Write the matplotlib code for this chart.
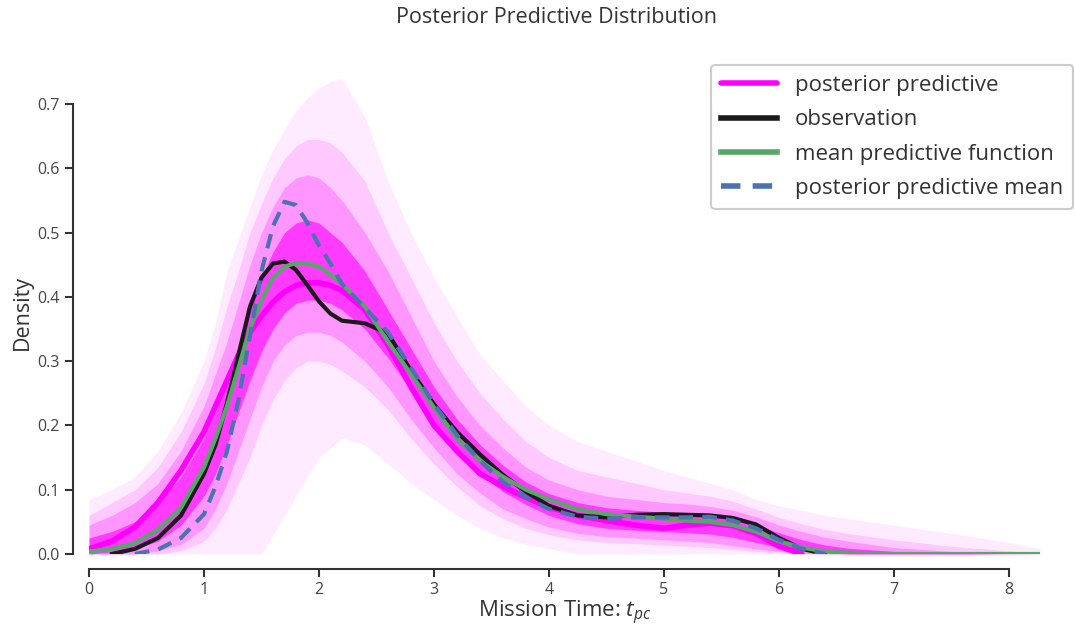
"""
Posterior predictive check plot for mission time t_pc.
Band of predictive densities plus observed KDE and means.
"""

import numpy as np
import matplotlib
matplotlib.use("Agg")
import matplotlib.pyplot as plt

# evaluation grid shared by every curve
X_GRID = [0.0, 0.2, 0.4, 0.6, 0.8, 1.0, 1.1, 1.2, 1.3, 1.4, 1.5, 1.6, 1.7, 1.8,
          1.9, 2.0, 2.1, 2.2, 2.4, 2.6, 2.8, 3.0, 3.2, 3.4, 3.6, 3.8, 4.0, 4.25,
          4.5, 4.75, 5.0, 5.2, 5.4, 5.6, 5.8, 6.0, 6.2, 6.4, 6.6, 7.0, 7.5, 8.0, 8.27]

nan = float("nan")

# observed KDE
OBSERVATION = [nan, 0.0, 0.008, 0.025, 0.06, 0.125, 0.17, 0.235, 0.31, 0.385, 0.43, 0.452,
               0.455, 0.442, 0.418, 0.393, 0.374, 0.363, 0.359, 0.343, 0.285, 0.233, 0.19,
               0.155, 0.123, 0.097, 0.075, 0.06, 0.057, 0.061, 0.062, 0.061, 0.06, 0.056,
               0.046, 0.025, 0.008, 0.0, nan, nan, nan, nan, nan]

MEAN_FUNCTION = [0.004, 0.008, 0.017, 0.038, 0.072, 0.135, 0.18, 0.23, 0.29, 0.35, 0.395,
                 0.43, 0.447, 0.453, 0.452, 0.447, 0.435, 0.42, 0.385, 0.33, 0.28, 0.228,
                 0.18, 0.145, 0.12, 0.1, 0.085, 0.07, 0.062, 0.058, 0.055, 0.052, 0.05,
                 0.045, 0.035, 0.02, 0.01, 0.004, 0.002, 0.0, 0.0, 0.0, 0.0]

PP_MEAN = [nan, nan, 0.0, 0.007, 0.025, 0.062, 0.105, 0.16, 0.24, 0.34, 0.44, 0.51, 0.548,
           0.543, 0.515, 0.48, 0.452, 0.42, 0.383, 0.345, 0.29, 0.233, 0.185, 0.145, 0.112,
           0.088, 0.07, 0.058, 0.055, 0.057, 0.057, 0.057, 0.058, 0.052, 0.04, 0.022,
           0.008, 0.0, nan, nan, nan, nan, nan]

# one highlighted predictive draw
PP_DRAW = [0.008, 0.02, 0.042, 0.08, 0.13, 0.19, 0.23, 0.27, 0.31, 0.345, 0.37, 0.392,
           0.408, 0.418, 0.422, 0.422, 0.418, 0.41, 0.38, 0.325, 0.26, 0.2, 0.16, 0.125,
           0.105, 0.088, 0.073, 0.06, 0.052, 0.045, 0.04, 0.045, 0.048, 0.044, 0.032,
           0.012, 0.0, nan, nan, nan, nan, nan, nan]

# spread of the predictive draws
BAND_MAX = [0.085, 0.10, 0.12, 0.16, 0.22, 0.30, 0.36, 0.44, 0.49, 0.54, 0.59, 0.63, 0.66,
            0.69, 0.71, 0.725, 0.735, 0.74, 0.68, 0.58, 0.50, 0.43, 0.37, 0.31, 0.27, 0.23,
            0.20, 0.175, 0.16, 0.145, 0.13, 0.12, 0.11, 0.10, 0.085, 0.075, 0.068, 0.06,
            0.055, 0.045, 0.032, 0.018, 0.008]
BAND_MIN = [0.0, 0.0, 0.0, 0.0, 0.0, 0.0, 0.0, 0.0, 0.0, 0.0, 0.0, 0.03, 0.06, 0.09, 0.12,
            0.15, 0.165, 0.18, 0.17, 0.14, 0.11, 0.085, 0.06, 0.04, 0.025, 0.015, 0.008,
            0.0, 0.0, 0.0, 0.0, 0.0, 0.0, 0.0, 0.0, 0.0, 0.0, 0.0, 0.0, 0.0, 0.0, 0.0, 0.0]
BAND_Q95 = [0.06, 0.08, 0.10, 0.135, 0.19, 0.265, 0.32, 0.385, 0.44, 0.5, 0.545, 0.585,
            0.615, 0.635, 0.645, 0.645, 0.64, 0.625, 0.58, 0.5, 0.43, 0.36, 0.3, 0.25, 0.21,
            0.175, 0.15, 0.13, 0.12, 0.11, 0.1, 0.095, 0.09, 0.082, 0.07, 0.057, 0.047,
            0.038, 0.032, 0.022, 0.012, 0.005, 0.001]
BAND_Q05 = [0.0, 0.0, 0.0, 0.0, 0.005, 0.02, 0.04, 0.07, 0.11, 0.15, 0.2, 0.24, 0.27, 0.29,
            0.3, 0.3, 0.295, 0.285, 0.26, 0.225, 0.18, 0.14, 0.105, 0.075, 0.055, 0.04,
            0.03, 0.022, 0.018, 0.016, 0.014, 0.012, 0.01, 0.007, 0.004, 0.002, 0.0, 0.0,
            0.0, 0.0, 0.0, 0.0, 0.0]
BAND_Q90 = [0.045, 0.06, 0.08, 0.11, 0.16, 0.23, 0.28, 0.33, 0.39, 0.45, 0.5, 0.54, 0.57,
            0.585, 0.59, 0.585, 0.57, 0.55, 0.5, 0.44, 0.37, 0.3, 0.245, 0.2, 0.165, 0.135,
            0.115, 0.1, 0.09, 0.085, 0.08, 0.078, 0.074, 0.068, 0.058, 0.045, 0.035, 0.026,
            0.02, 0.01, 0.004, 0.001, 0.0]
BAND_Q10 = [0.0, 0.0, 0.0, 0.005, 0.015, 0.04, 0.07, 0.11, 0.16, 0.21, 0.26, 0.3, 0.325,
            0.34, 0.345, 0.345, 0.34, 0.33, 0.3, 0.26, 0.21, 0.165, 0.125, 0.095, 0.07,
            0.055, 0.042, 0.032, 0.027, 0.025, 0.022, 0.02, 0.018, 0.013, 0.008, 0.004,
            0.001, 0.0, 0.0, 0.0, 0.0, 0.0, 0.0]
BAND_Q75 = [0.025, 0.035, 0.05, 0.08, 0.12, 0.18, 0.22, 0.27, 0.32, 0.38, 0.43, 0.47, 0.5,
            0.515, 0.52, 0.515, 0.5, 0.485, 0.44, 0.38, 0.32, 0.26, 0.21, 0.17, 0.138,
            0.112, 0.094, 0.08, 0.072, 0.068, 0.065, 0.063, 0.06, 0.054, 0.045, 0.033,
            0.022, 0.014, 0.009, 0.004, 0.001, 0.0, 0.0]
BAND_Q25 = [0.0, 0.003, 0.008, 0.02, 0.045, 0.09, 0.125, 0.17, 0.22, 0.27, 0.315, 0.35,
            0.375, 0.39, 0.395, 0.395, 0.39, 0.38, 0.35, 0.305, 0.255, 0.205, 0.16, 0.125,
            0.097, 0.077, 0.06, 0.047, 0.04, 0.037, 0.035, 0.033, 0.031, 0.026, 0.018,
            0.01, 0.005, 0.002, 0.0, 0.0, 0.0, 0.0, 0.0]

X_TICKS = [0, 1, 2, 3, 4, 5, 6, 7, 8]
Y_TICKS = [0.0, 0.1, 0.2, 0.3, 0.4, 0.5, 0.6, 0.7]

MAGENTA = "#ff00ff"
GREEN = "#55a868"
BLUE = "#4c72b0"
TEXT = "#333333"


def main():
    plt.rcParams["font.family"] = ["Open Sans", "DejaVu Sans"]
    plt.rcParams["mathtext.fontset"] = "custom"
    plt.rcParams["mathtext.it"] = "Open Sans:italic"
    plt.rcParams["mathtext.rm"] = "Open Sans"

    fig = plt.figure(figsize=(10.75, 6.25), dpi=100)
    ax = fig.add_axes([89 / 1075, 71 / 625, 951 / 1075, 482 / 625])

    x = np.array(X_GRID)
    # stacked quantile bands stand in for the cloud of thin predictive lines
    ax.fill_between(x, BAND_MIN, BAND_MAX, color=MAGENTA, alpha=0.08, lw=0)
    ax.fill_between(x, BAND_Q05, BAND_Q95, color=MAGENTA, alpha=0.15, lw=0)
    ax.fill_between(x, BAND_Q10, BAND_Q90, color=MAGENTA, alpha=0.25, lw=0)
    ax.fill_between(x, BAND_Q25, BAND_Q75, color=MAGENTA, alpha=0.6, lw=0)

    ax.plot(x, PP_DRAW, color=MAGENTA, lw=4, solid_capstyle="round",
            label="posterior predictive")
    ax.plot(x, OBSERVATION, color="#1a1a1a", lw=3, label="observation")
    ax.plot(x, MEAN_FUNCTION, color=GREEN, lw=3, label="mean predictive function")
    ax.plot(x, PP_MEAN, color=BLUE, lw=3, ls=(0, (3.5, 2.2)),
            label="posterior predictive mean")

    ax.set_xlim(0, 8.27)
    ax.set_ylim(0, 0.75)
    ax.set_xticks(X_TICKS)
    ax.set_yticks(Y_TICKS)
    ax.set_yticklabels([f"{v:.1f}" for v in Y_TICKS])

    # seaborn-like despine with offset and trimmed spines
    for side in ("top", "right"):
        ax.spines[side].set_visible(False)
    ax.spines["left"].set_position(("outward", 11.5))
    ax.spines["bottom"].set_position(("outward", 11))
    ax.spines["left"].set_bounds(0, 0.7)
    ax.spines["bottom"].set_bounds(0, 8)
    for side in ("left", "bottom"):
        ax.spines[side].set_color(TEXT)
        ax.spines[side].set_linewidth(1.5)
    ax.tick_params(colors=TEXT, labelsize=11.5, width=1.5, length=6,
                   labelcolor="#444444")

    ax.set_xlabel("Mission Time: $t_{pc}$", fontsize=16, color=TEXT, labelpad=0)
    ax.set_ylabel("Density", fontsize=15.5, color=TEXT, labelpad=3)
    fig.text(557 / 1075, 1 - 7 / 625, "Posterior Predictive Distribution",
             fontsize=15.5, color=TEXT, ha="center", va="top")

    leg = ax.legend(loc="upper right", bbox_to_anchor=(1073 / 1075, 1 - 65 / 625),
                    bbox_transform=fig.transFigure, borderaxespad=0,
                    fontsize=16, handlelength=2.5, handletextpad=0.8,
                    labelspacing=0.6, borderpad=0.45, fancybox=True, framealpha=1)
    leg.get_frame().set_edgecolor("#cccccc")
    leg.get_frame().set_linewidth(1.5)
    for txt in leg.get_texts():
        txt.set_color(TEXT)
    for line in leg.get_lines():
        line.set_linewidth(4)

    fig.savefig("out.png", dpi=100, facecolor="white")
    plt.close(fig)


if __name__ == "__main__":
    main()
